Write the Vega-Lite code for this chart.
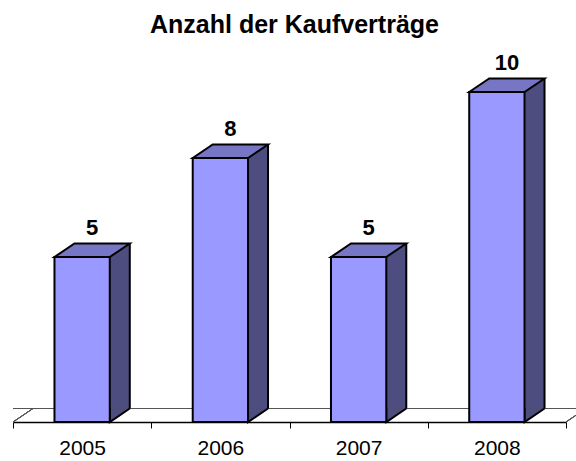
{
  "$schema": "https://vega.github.io/schema/vega-lite/v6.json",
  "width": 553,
  "height": 330,
  "autosize": {"type": "none"},
  "padding": {"left": 13, "top": 92, "right": 10, "bottom": 39},
  "background": "white",
  "config": {"view": {"stroke": null}, "font": "Liberation Sans"},
  "title": {
    "text": "Anzahl der Kaufverträge",
    "font": "Liberation Sans",
    "fontSize": 25,
    "fontWeight": "bold",
    "color": "black",
    "anchor": "middle",
    "frame": "group",
    "baseline": "alphabetic",
    "offset": -6,
    "dx": 5
  },
  "data": {
    "values": [
      {"year": "2005", "count": 5},
      {"year": "2006", "count": 8},
      {"year": "2007", "count": 5},
      {"year": "2008", "count": 10}
    ]
  },
  "layer": [
    {
      "mark": {"type": "rule", "color": "#555555", "strokeWidth": 1, "xOffset": 20, "x2Offset": 20, "yOffset": -13.5},
      "encoding": {
        "y": {"datum": 0, "type": "quantitative", "scale": {"domain": [0, 10]}, "axis": null}
      }
    },
    {
      "mark": {"type": "point", "shape": "M-69.1,0L-49.1,-13.5", "size": 4, "filled": false, "stroke": "#555555", "strokeWidth": 1, "opacity": 1},
      "encoding": {
        "x": {"datum": "2005", "type": "nominal", "scale": {"type": "band", "paddingInner": 0, "paddingOuter": 0, "domain": ["2005", "2006", "2007", "2008"]}, "axis": {"title": null, "domainColor": "black", "domainWidth": 1.5, "tickColor": "black", "tickWidth": 1, "tickSize": 6, "tickBand": "extent", "labelAngle": 0, "labelFontSize": 21, "labelColor": "black", "labelFont": "Liberation Sans", "labelPadding": 9, "grid": false}},
        "y": {"datum": 0, "type": "quantitative", "axis": null}
      }
    },
    {
      "mark": {"type": "point", "shape": "M69.1,0L89.1,-13.5", "size": 4, "filled": false, "stroke": "#555555", "strokeWidth": 1, "opacity": 1},
      "encoding": {
        "x": {"datum": "2008", "type": "nominal"},
        "y": {"datum": 0, "type": "quantitative", "axis": null}
      }
    },
    {
      "mark": {"type": "bar", "width": 20, "xOffset": 37.65, "yOffset": -13.5, "y2Offset": -13.5, "fill": "#4D4D80"},
      "encoding": {
        "x": {"field": "year", "type": "nominal"},
        "y": {"field": "count", "type": "quantitative", "axis": null},
        "y2": {"datum": 0}
      }
    },
    {
      "mark": {"type": "point", "shape": "M27.65,-13.5L27.65,0L47.65,-13.5", "size": 4, "filled": true, "fill": "#4D4D80", "stroke": "black", "strokeWidth": 2, "opacity": 1},
      "encoding": {
        "x": {"field": "year", "type": "nominal"},
        "y": {"datum": 0, "type": "quantitative", "axis": null}
      }
    },
    {
      "mark": {"type": "rule", "color": "black", "strokeWidth": 2, "xOffset": 47.65, "yOffset": -13.5, "y2Offset": -13.5},
      "encoding": {
        "x": {"field": "year", "type": "nominal"},
        "y": {"field": "count", "type": "quantitative", "axis": null},
        "y2": {"datum": 0}
      }
    },
    {
      "mark": {"type": "bar", "width": {"band": 0.4}, "fill": "#9999FF", "stroke": "black", "strokeWidth": 2},
      "encoding": {
        "x": {"field": "year", "type": "nominal"},
        "y": {"field": "count", "type": "quantitative", "axis": null},
        "y2": {"datum": 0}
      }
    },
    {
      "mark": {"type": "point", "shape": "M-27.65,0L-7.65,-13.5L47.65,-13.5L27.65,0Z", "size": 4, "filled": true, "fill": "#7676C4", "stroke": "black", "strokeWidth": 2, "strokeJoin": "miter", "opacity": 1},
      "encoding": {
        "x": {"field": "year", "type": "nominal"},
        "y": {"field": "count", "type": "quantitative", "axis": null}
      }
    },
    {
      "mark": {"type": "text", "dx": 10, "dy": -22, "baseline": "alphabetic", "align": "center", "fontSize": 22, "fontWeight": "bold", "font": "Liberation Sans", "color": "black"},
      "encoding": {
        "x": {"field": "year", "type": "nominal"},
        "y": {"field": "count", "type": "quantitative", "axis": null},
        "text": {"field": "count", "type": "quantitative"}
      }
    }
  ]
}
